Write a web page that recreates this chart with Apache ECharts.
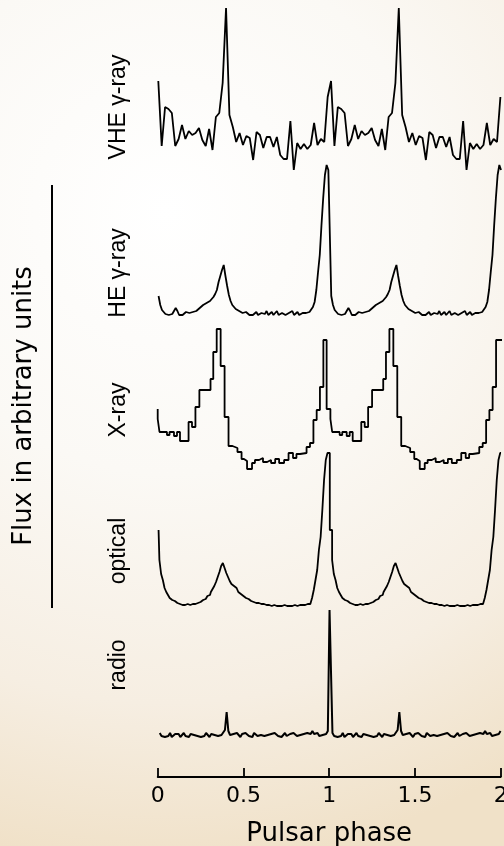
<!DOCTYPE html>
<html><head><meta charset="utf-8">
<script src="https://cdn.jsdelivr.net/npm/echarts@6/dist/echarts.min.js"></script>
<style>html,body{margin:0;padding:0;}#c{width:504px;height:846px;}</style>
</head><body><div id="c"></div>
<script>
// ---------- data ----------
const xTicks = [0, 0.5, 1, 1.5, 2];
const bandLabels = ['VHE γ-ray', 'HE γ-ray', 'X-ray', 'optical', 'radio'];
const cycleShift = 1.007;          // phase offset of the second copied cycle

// VHE gamma-ray: 51 bins per cycle
const vheStart = 0.0035, vheStep = 0.01975;
const vheValues = [91,26,65,63,59,26,33,47,33,41,37,39,44,32,26,43,22,55,59,89,
  164,57,45,30,39,27,36,34,12,40,37,24,35,35,25,35,17,13,13,51,
  2,29,23,28,23,27,49,27,33,30,75];

// HE gamma-ray, optical, radio: 100 bins per cycle
const binStart = 0.005, binStep = 0.01;
const heValues = [24,15,10,8,6,7,5,7,6,8, 12,9,5,6,5,7,8,6,7,7,
  8,10,9,11,12,14,15,14,17,18, 19,21,23,26,30,38,44,50,55,44,
  34,25,19,15,13,11,10,9,8,7, 6,8,6,5,7,5,6,8,5,6,
  7,5,6,9,5,6,8,5,6,9, 5,5,7,9,5,6,7,6,9,5,
  6,8,5,6,7,5,7,6,8,10, 13,18,30,48,65,95,122,145,155,150];

const opticalValues = [80,50,36,30,22,18,15,12,10,9, 8,7,6,6,5,5,5,6,5,6,
  6,6,7,7,8,9,10,11,12,14, 15,18,21,24,28,33,38,44,47,42,
  37,33,29,26,24,22,20,18,16,14, 13,12,11,10,9,8,8,7,7,6,
  6,6,5,5,5,5,4,5,4,4, 4,4,4,5,4,4,4,4,4,5,
  4,4,5,5,5,5,5,6,6,8, 12,20,30,40,60,73,100,130,150,157];

const radioStart = 0.012;
const radioValues = [12,9,11,8,10,9,12,8,10,11, 9,11,8,10,12,9,10,8,11,9,
  10,12,9,11,8,10,9,12,10,8, 11,9,10,12,9,11,10,9,15,33,
  14,10,8,11,9,12,10,8,11,9, 12,10,9,11,8,12,10,9,11,10,
  12,9,11,10,8,11,9,12,10,9, 11,8,10,12,9,10,11,9,12,10,
  9,11,10,12,11,9,12,10,11,14, 11,10,12,9,11,10,12,11,14,135];

// X-ray: step histogram (bin start phase, value)
const xrayPhases = [0,0.0105,0.054,0.069,0.095,0.1125,0.130,0.180,0.200,0.220,
  0.243,0.308,0.324,0.344,0.367,0.390,0.413,0.436,0.465,0.489,
  0.503,0.521,0.550,0.567,0.591,0.614,0.638,0.661,0.685,0.708,
  0.737,0.763,0.789,0.809,0.830,0.868,0.888,0.908,0.927,0.946,0.966,0.985];
const xrayValues = [61,51,38,35,38,34,38,29,48,43,
  63,80,91,118,141,104,53,24,22,18,
  11,9,1,7,10,12,8,10,7,11,
  7,10,17,12,16,17,23,27,50,60,83,130];

// ---------- build ----------
function binned(values, start, step, maxPhase) {
  const out = [];
  for (let c = 0; c < 2; c++) values.forEach((v, k) => out.push([start + k * step + c * cycleShift, v]));
  return maxPhase ? out.filter(d => d[0] <= maxPhase) : out;
}
function vheSeries() {
  const out = [];
  const n = vheValues.length;
  for (let c = 0; c < 2; c++) vheValues.forEach((v, k) => out.push([vheStart + (k + c * n) * vheStep, v]));
  return out;
}
function xraySeries() {
  const out = [];
  for (let c = 0; c < 2; c++) xrayPhases.forEach((p, k) => out.push([p + c * cycleShift, xrayValues[k]]));
  out.push([2 * cycleShift, xrayValues[xrayValues.length - 1]]);
  return out;
}

const panels = [
  { top: 7,   height: 165, data: vheSeries(), step: false },
  { top: 160, height: 160, data: binned(heValues, binStart, binStep), step: false },
  { top: 320, height: 150, data: xraySeries(), step: 'start' },
  { top: 450, height: 160, data: binned(opticalValues, binStart, binStep), step: 'middle' },
  { top: 600, height: 145, data: binned(radioValues, radioStart, binStep, 2), step: false }
];
const labelY = [107, 273, 410, 551, 665];

const chart = echarts.init(document.getElementById('c'), null, { renderer: 'canvas' });
const gridLeft = 157.7, gridRight = 504 - 500.7;

const option = {
  animation: false,
  backgroundColor: {
    type: 'radial', x: 0.33, y: 0.25, r: 1.3,
    colorStops: [
      { offset: 0, color: '#ffffff' },
      { offset: 0.4, color: '#fbf9f5' },
      { offset: 0.75, color: '#f6eee2' },
      { offset: 1, color: '#f0e1c8' }
    ]
  },
  grid: panels.map(p => ({ left: gridLeft, right: gridRight, top: p.top, height: p.height,
    containLabel: false, outerBoundsMode: 'none' })),
  xAxis: panels.map((p, i) => {
    const last = i === panels.length - 1;
    return {
      type: 'value', gridIndex: i, min: 0, max: 2, interval: 0.5,
      show: last,
      offset: last ? 32 : 0,
      position: 'bottom',
      splitLine: { show: false },
      axisLine: { show: last, onZero: false, lineStyle: { color: '#000', width: 1.8 } },
      axisTick: { show: last, inside: true, length: 9, lineStyle: { color: '#000', width: 1.8 } },
      axisLabel: {
        show: last, color: '#000', fontFamily: 'DejaVu Sans', fontSize: 22, margin: 8,
        formatter: v => (xTicks.indexOf(v) >= 0 ? String(v) : '')
      },
      name: last ? 'Pulsar phase' : '',
      nameLocation: 'middle', nameGap: 44,
      nameTextStyle: { color: '#000', fontFamily: 'DejaVu Sans', fontSize: 26 }
    };
  }),
  yAxis: panels.map((p, i) => ({
    type: 'value', gridIndex: i, min: 0, max: p.height, show: false, splitLine: { show: false }
  })),
  series: panels.map((p, i) => ({
    type: 'line', xAxisIndex: i, yAxisIndex: i, data: p.data, step: p.step,
    symbol: 'none', showSymbol: false, sampling: null,
    lineStyle: { color: '#000', width: i === 4 ? 2 : 1.8 }
  })),
  graphic: [
    ...bandLabels.map((t, i) => ({
      type: 'text', x: 119, y: labelY[i], rotation: Math.PI / 2,
      style: { text: t, fill: '#000', font: '23px "Liberation Sans"',
        align: 'center', verticalAlign: 'middle', textAlign: 'center', textVerticalAlign: 'middle' }
    })),
    {
      type: 'text', x: 24, y: 406, rotation: Math.PI / 2,
      style: { text: 'Flux in arbitrary units', fill: '#000', font: '26px "DejaVu Sans"',
        align: 'center', verticalAlign: 'middle', textAlign: 'center', textVerticalAlign: 'middle' }
    },
    {
      type: 'line', shape: { x1: 52, y1: 185, x2: 52, y2: 608 },
      style: { stroke: '#000', lineWidth: 2 }
    }
  ]
};
chart.setOption(option);
</script>
</body></html>
